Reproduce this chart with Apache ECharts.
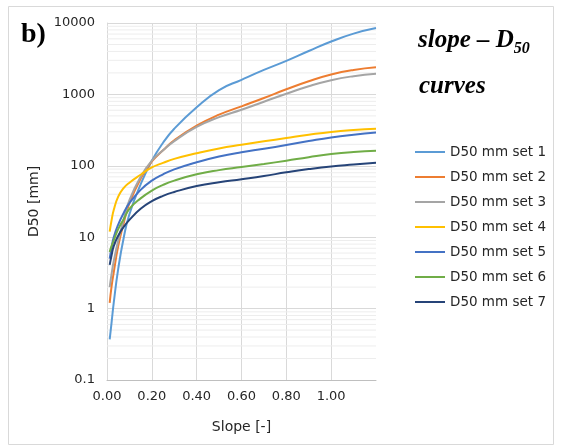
<!DOCTYPE html>
<html>
<head>
<meta charset="utf-8">
<script src="https://cdn.jsdelivr.net/npm/echarts@6/dist/echarts.min.js"></script>
<style>html,body{margin:0;padding:0;background:#fff;}#c{width:562px;height:448px;}</style>
</head>
<body>
<div id="c"></div>
<script>
// Slope sample points (x) shared by all series
const slopes = [0.012, 0.02, 0.03, 0.05, 0.075, 0.1, 0.15, 0.2, 0.25, 0.3, 0.4, 0.5, 0.6, 0.7, 0.8, 0.9, 1.0, 1.1, 1.2];

const set1 = [0.37, 0.62, 1.2, 3.6, 10, 21, 55, 118, 210, 330, 660, 1150, 1600, 2200, 2950, 4050, 5500, 7100, 8500];
const set2 = [1.2, 2.0, 3.2, 7.5, 16, 30, 66, 115, 165, 228, 365, 520, 680, 890, 1180, 1530, 1900, 2200, 2400];
const set3 = [2.0, 3.0, 4.6, 9, 18, 33, 70, 118, 165, 222, 350, 480, 610, 790, 1020, 1300, 1580, 1800, 1950];
const set4 = [12, 17, 24, 37, 49, 58, 75, 95, 110, 125, 150, 175, 197, 220, 245, 272, 298, 317, 330];
const set5 = [5, 7, 10, 15, 22, 30, 46, 62, 76, 89, 112, 135, 155, 173, 195, 222, 250, 273, 292];
const set6 = [6.2, 7.5, 9, 13, 18, 25, 35, 45, 54, 62, 76, 87, 96, 106, 118, 132, 146, 156, 162];
const set7 = [4.1, 5.5, 7.5, 10.5, 14, 17.5, 25, 32, 38, 43, 52, 59, 65, 72, 81, 90, 98, 104, 110];

const seriesNames = ['D50 mm set 1', 'D50 mm set 2', 'D50 mm set 3', 'D50 mm set 4', 'D50 mm set 5', 'D50 mm set 6', 'D50 mm set 7'];
const seriesValues = [set1, set2, set3, set4, set5, set6, set7];
const colors = ['#5B9BD5', '#ED7D31', '#A5A5A5', '#FFC000', '#4472C4', '#70AD47', '#264478'];

// Minor log grid lines (2..9 in every decade)
const decades = [0.1, 1, 10, 100, 1000];
const minorMultipliers = [2, 3, 4, 5, 6, 7, 8, 9];
const minorValues = [];
decades.forEach(d => minorMultipliers.forEach(m => minorValues.push(+(d * m).toPrecision(3))));
const xExtent = [0, 1.2];

const textColor = '#262626';
const font = 'DejaVu Sans';

const minorSeries = minorValues.map(v => ({
  name: 'minor-' + v,
  type: 'line',
  data: [[xExtent[0], v], [xExtent[1], v]],
  symbol: 'none',
  silent: true,
  lineStyle: { color: '#ededed', width: 1 },
  z: 1,
  emphasis: { disabled: true },
  tooltip: { show: false }
}));

const mainSeries = seriesNames.map((name, i) => ({
  name: name,
  type: 'line',
  data: slopes.map((x, j) => [x, seriesValues[i][j]]),
  symbol: 'none',
  smooth: 0.5,
  lineStyle: { color: colors[i], width: 2 },
  itemStyle: { color: colors[i] },
  z: 3
}));

const chart = echarts.init(document.getElementById('c'), null, { renderer: 'canvas' });
chart.setOption({
  animation: false,
  backgroundColor: '#ffffff',
  graphic: [
    { type: 'rect', shape: { x: 8.5, y: 6.5, width: 545, height: 438 }, style: { fill: 'none', stroke: '#d9d9d9', lineWidth: 1 }, z: -1 },
    { type: 'text', left: 21, top: 21, style: { text: 'b)', font: 'bold 28px "Liberation Serif"', fill: '#000' } },
    { type: 'text', left: 418, top: 28, style: {
        text: '{a|slope – D}{s|50}',
        rich: {
          a: { font: 'italic bold 25px "Liberation Serif"', fill: '#000', verticalAlign: 'bottom' },
          s: { font: 'italic bold 16px "Liberation Serif"', fill: '#000', verticalAlign: 'bottom', padding: [0, 0, -4, 0] }
        }
      } },
    { type: 'text', left: 419, top: 74, style: { text: 'curves', font: 'italic bold 25px "Liberation Serif"', fill: '#000' } }
  ],
  legend: {
    orient: 'vertical',
    left: 410,
    top: 140,
    itemWidth: 30,
    itemHeight: 2,
    itemGap: 11,
    icon: 'rect',
    data: seriesNames,
    textStyle: { fontFamily: font, fontSize: 13.5, color: textColor }
  },
  grid: { left: 107, right: 186, top: 23, bottom: 68, containLabel: false },
  xAxis: {
    type: 'value',
    min: xExtent[0],
    max: xExtent[1],
    interval: 0.2,
    name: 'Slope [-]',
    nameLocation: 'middle',
    nameGap: 40,
    nameTextStyle: { fontFamily: font, fontSize: 14, color: textColor },
    axisLine: { show: true, lineStyle: { color: '#bfbfbf', width: 1 } },
    axisTick: { show: false },
    axisLabel: { fontFamily: font, fontSize: 13, color: textColor, margin: 10, showMaxLabel: false, formatter: v => v.toFixed(2) },
    splitLine: { show: true, showMaxLine: false, lineStyle: { color: '#d9d9d9', width: 1 } }
  },
  yAxis: {
    type: 'log',
    logBase: 10,
    min: 0.1,
    max: 10000,
    splitNumber: 5,
    name: 'D50 [mm]',
    nameLocation: 'middle',
    nameGap: 66,
    nameTextStyle: { fontFamily: font, fontSize: 14, color: textColor },
    axisLine: { show: true, lineStyle: { color: '#d9d9d9', width: 1 } },
    axisTick: { show: false },
    axisLabel: { fontFamily: font, fontSize: 13, color: textColor, margin: 12, formatter: v => String(+v.toPrecision(6)) },
    splitLine: { show: true, lineStyle: { color: '#d9d9d9', width: 1 } }
  },
  series: minorSeries.concat(mainSeries)
});
</script>
</body>
</html>
